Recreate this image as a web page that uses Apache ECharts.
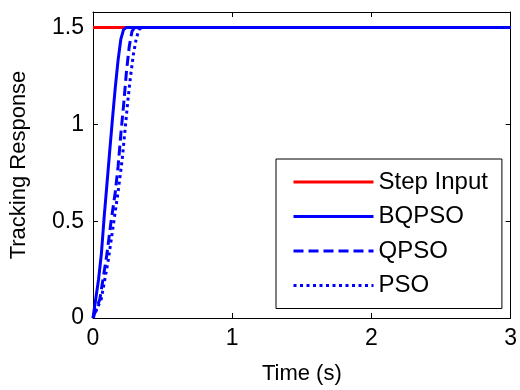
<!DOCTYPE html>
<html>
<head>
<meta charset="utf-8">
<script src="https://cdn.jsdelivr.net/npm/echarts@6/dist/echarts.min.js"></script>
<style>
  html, body { margin: 0; padding: 0; background: #fff; }
  #chart { width: 520px; height: 390px; }
</style>
</head>
<body>
<div id="chart"></div>
<script>
// tracking response
const stepTime = [0, 3]
const stepResp = [1.5, 1.5]

const bqpsoTime = [0, 0.02, 0.04, 0.06, 0.08, 0.1, 0.12, 0.14, 0.16, 0.18, 0.2, 0.22, 0.24, 3]
const bqpsoResp = [0, 0.1, 0.2, 0.33, 0.52, 0.69, 0.86, 1.03, 1.19, 1.33, 1.44, 1.49, 1.5, 1.5]

const qpsoTime = [0, 0.05, 0.1, 0.13, 0.16, 0.18, 0.2, 0.22, 0.24, 0.26, 0.28, 0.3, 3]
const qpsoResp = [0, 0.1, 0.33, 0.5, 0.65, 0.78, 0.95, 1.1, 1.27, 1.4, 1.48, 1.5, 1.5]

const psoTime = [0, 0.06, 0.11, 0.15, 0.18, 0.21, 0.23, 0.25, 0.27, 0.29, 0.31, 0.33, 0.36, 3]
const psoResp = [0, 0.1, 0.3, 0.5, 0.65, 0.82, 0.97, 1.12, 1.25, 1.36, 1.44, 1.49, 1.5, 1.5]

const xTicks = [0, 1, 2, 3]
const yTicks = [0, 0.5, 1, 1.5]

const pairs = (t, v) => t.map((x, i) => [x, v[i]])

const FONT = 'Liberation Sans, Arial, sans-serif'

const axisCommon = {
  axisLine: { show: true, onZero: false, lineStyle: { color: '#000', width: 1 } },
  axisTick: { show: true, inside: true, length: 5, lineStyle: { color: '#000' } },
  splitLine: { show: false },
}

const chart = echarts.init(document.getElementById('chart'), undefined, { renderer: 'canvas' })
chart.setOption({
  backgroundColor: '#fff',
  animation: false,
  grid: { left: 90, right: 7, top: 12, bottom: 72, containLabel: false },
  legend: {
    orient: 'vertical',
    left: 276,
    top: 159,
    padding: [11, 14, 11, 16],
    itemWidth: 80,
    itemHeight: 14,
    itemGap: 10.5,
    backgroundColor: '#fff',
    borderColor: '#000',
    borderWidth: 1,
    itemStyle: { opacity: 0 },
    lineStyle: { width: 3 },
    textStyle: { fontFamily: FONT, fontSize: 24, color: '#000', lineHeight: 24 },
    data: ['Step Input', 'BQPSO', 'QPSO', 'PSO'],
  },
  xAxis: [
    {
      ...axisCommon,
      type: 'value',
      min: 0,
      max: 3,
      interval: 1,
      name: 'Time (s)',
      nameLocation: 'middle',
      nameGap: 45,
      nameTextStyle: { fontFamily: FONT, fontSize: 22, color: '#000' },
      axisLabel: {
        fontFamily: FONT, fontSize: 23, color: '#000', margin: 9,
        formatter: (v) => (xTicks.includes(v) ? String(v) : ''),
      },
    },
    {
      ...axisCommon,
      type: 'value',
      position: 'top',
      min: 0,
      max: 3,
      interval: 1,
      axisLabel: { show: false },
    },
  ],
  yAxis: [
    {
      ...axisCommon,
      type: 'value',
      min: 0,
      max: 1.58,
      interval: 0.5,
      name: 'Tracking Response',
      nameLocation: 'middle',
      nameGap: 63,
      nameTextStyle: { fontFamily: FONT, fontSize: 22, color: '#000' },
      axisLabel: {
        fontFamily: FONT, fontSize: 23, color: '#000', margin: 9, showMaxLabel: false,
        formatter: (v) => (yTicks.includes(v) ? String(v) : ''),
      },
    },
    {
      ...axisCommon,
      type: 'value',
      position: 'right',
      min: 0,
      max: 1.58,
      interval: 0.5,
      axisLabel: { show: false },
    },
  ],
  series: [
    {
      name: 'Step Input',
      type: 'line',
      data: pairs(stepTime, stepResp),
      showSymbol: false,
      symbol: 'none',
      lineStyle: { color: '#ff0000', width: 3 },
      itemStyle: { color: '#ff0000' },
    },
    {
      name: 'BQPSO',
      type: 'line',
      data: pairs(bqpsoTime, bqpsoResp),
      showSymbol: false,
      symbol: 'none',
      lineStyle: { color: '#0000ff', width: 3 },
      itemStyle: { color: '#0000ff' },
    },
    {
      name: 'QPSO',
      type: 'line',
      data: pairs(qpsoTime, qpsoResp),
      showSymbol: false,
      symbol: 'none',
      lineStyle: { color: '#0000ff', width: 3, type: [10, 5] },
      itemStyle: { color: '#0000ff' },
    },
    {
      name: 'PSO',
      type: 'line',
      data: pairs(psoTime, psoResp),
      showSymbol: false,
      symbol: 'none',
      lineStyle: { color: '#0000ff', width: 3, type: [3, 3.5] },
      itemStyle: { color: '#0000ff' },
    },
  ],
})
</script>
</body>
</html>
